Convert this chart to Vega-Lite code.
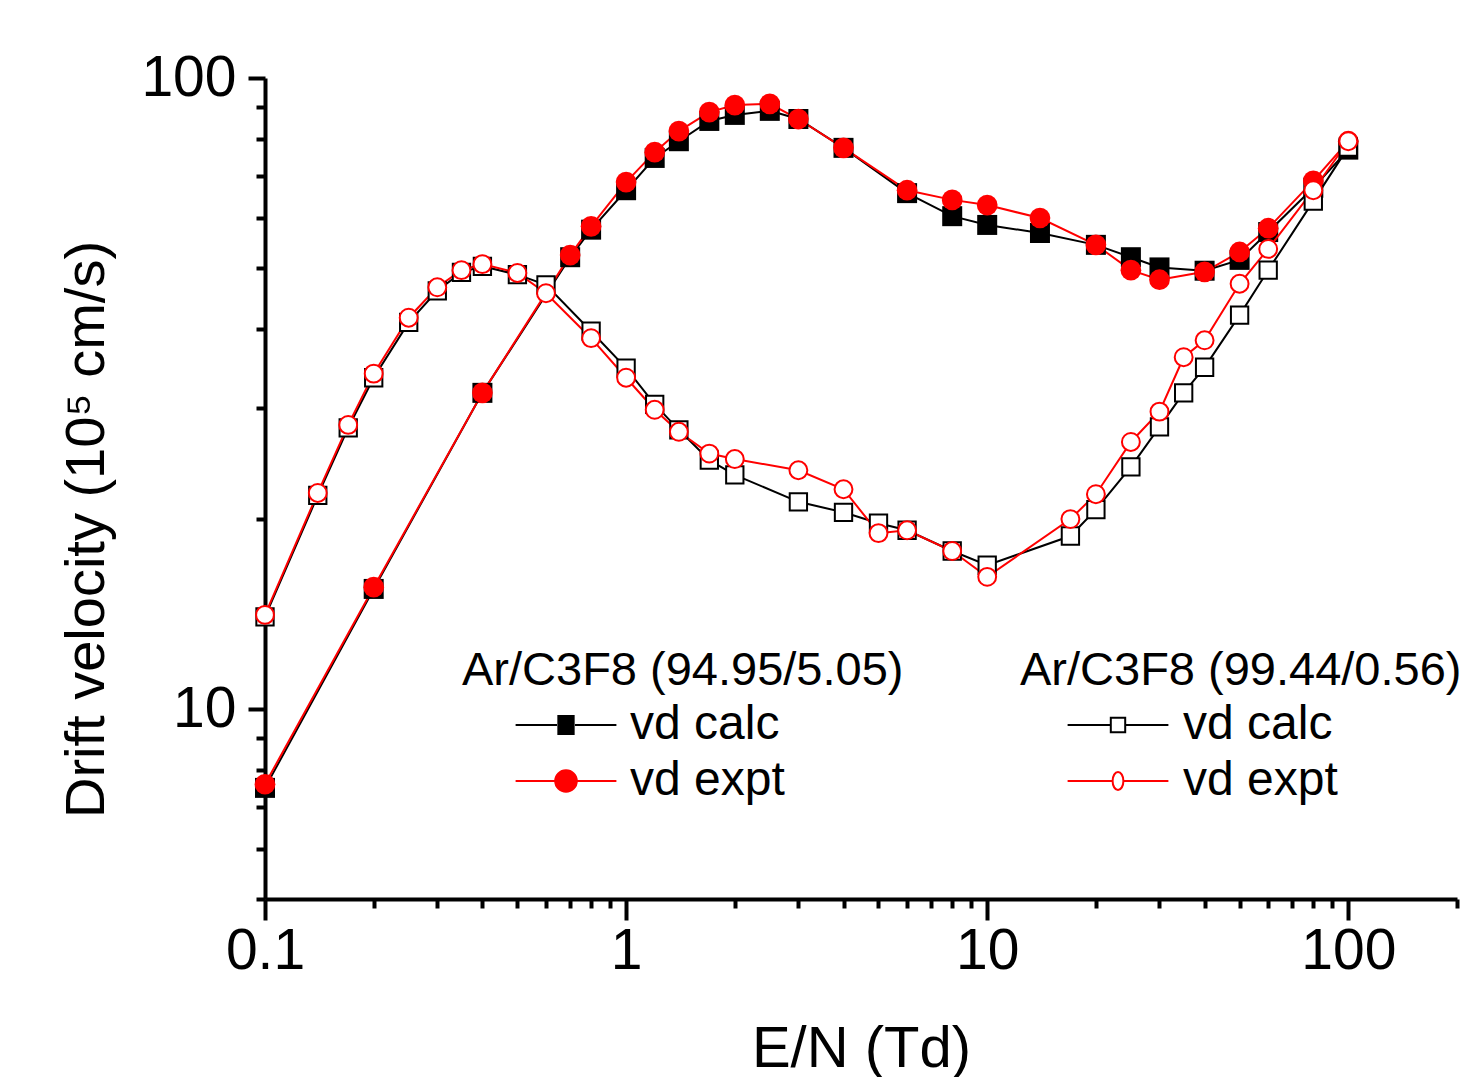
{
  "$schema": "https://vega.github.io/schema/vega-lite/v6.json",
  "autosize": {"type": "none"},
  "width": 1192,
  "height": 821,
  "padding": {"left": 265, "top": 78, "right": 8, "bottom": 178},
  "background": "white",
  "config": {
    "view": {"stroke": null},
    "font": "Liberation Sans",
    "axis": {
      "domainColor": "black", "domainWidth": 4, "tickColor": "black", "tickWidth": 4,
      "labelFont": "Liberation Sans", "labelFontSize": 57, "labelColor": "black",
      "labelOverlap": false, "labelFlush": false, "labelBound": false, "grid": false,
      "titleFont": "Liberation Sans", "titleFontWeight": "normal", "titleColor": "black"
    },
    "legend": {
      "titleFont": "Liberation Sans", "titleFontSize": 47, "titleFontWeight": "normal", "titleColor": "black",
      "titleLimit": 0, "labelLimit": 0, "labelFont": "Liberation Sans", "labelFontSize": 48, "labelColor": "black",
      "padding": 0, "symbolSize": 324, "symbolStrokeWidth": 2, "rowPadding": 8, "titlePadding": 6
    }
  },
  "datasets": {
    "mixA": [
      {"series": "vd calc", "x": 0.1, "y": 7.5}, {"series": "vd calc", "x": 0.2, "y": 15.5}, {"series": "vd calc", "x": 0.4, "y": 31.7},
      {"series": "vd calc", "x": 0.7, "y": 52.0}, {"series": "vd calc", "x": 0.8, "y": 57.5}, {"series": "vd calc", "x": 1.0, "y": 66.4},
      {"series": "vd calc", "x": 1.2, "y": 74.7}, {"series": "vd calc", "x": 1.4, "y": 79.4}, {"series": "vd calc", "x": 1.7, "y": 85.5},
      {"series": "vd calc", "x": 2.0, "y": 87.4}, {"series": "vd calc", "x": 2.5, "y": 88.7}, {"series": "vd calc", "x": 3.0, "y": 86.1},
      {"series": "vd calc", "x": 4.0, "y": 77.5}, {"series": "vd calc", "x": 6.0, "y": 65.7}, {"series": "vd calc", "x": 8.0, "y": 60.4},
      {"series": "vd calc", "x": 10, "y": 58.5}, {"series": "vd calc", "x": 14, "y": 56.8}, {"series": "vd calc", "x": 20, "y": 54.4},
      {"series": "vd calc", "x": 25, "y": 52.0}, {"series": "vd calc", "x": 30, "y": 50.1}, {"series": "vd calc", "x": 40, "y": 49.5},
      {"series": "vd calc", "x": 50, "y": 51.5}, {"series": "vd calc", "x": 60, "y": 57.0}, {"series": "vd calc", "x": 80, "y": 67.0},
      {"series": "vd calc", "x": 100, "y": 77.0},
      {"series": "vd expt", "x": 0.1, "y": 7.6}, {"series": "vd expt", "x": 0.2, "y": 15.6}, {"series": "vd expt", "x": 0.4, "y": 31.7},
      {"series": "vd expt", "x": 0.7, "y": 52.4}, {"series": "vd expt", "x": 0.8, "y": 58.2}, {"series": "vd expt", "x": 1.0, "y": 68.4},
      {"series": "vd expt", "x": 1.2, "y": 76.3}, {"series": "vd expt", "x": 1.4, "y": 82.4}, {"series": "vd expt", "x": 1.7, "y": 88.3},
      {"series": "vd expt", "x": 2.0, "y": 90.6}, {"series": "vd expt", "x": 2.5, "y": 91.0}, {"series": "vd expt", "x": 3.0, "y": 86.1},
      {"series": "vd expt", "x": 4.0, "y": 77.5}, {"series": "vd expt", "x": 6.0, "y": 66.4}, {"series": "vd expt", "x": 8.0, "y": 64.1},
      {"series": "vd expt", "x": 10, "y": 62.9}, {"series": "vd expt", "x": 14, "y": 60.0}, {"series": "vd expt", "x": 20, "y": 54.4},
      {"series": "vd expt", "x": 25, "y": 49.6}, {"series": "vd expt", "x": 30, "y": 47.9}, {"series": "vd expt", "x": 40, "y": 49.3},
      {"series": "vd expt", "x": 50, "y": 53.0}, {"series": "vd expt", "x": 60, "y": 57.8}, {"series": "vd expt", "x": 80, "y": 68.7},
      {"series": "vd expt", "x": 100, "y": 79.4}
    ],
    "mixB": [
      {"series": "vd calc", "x": 0.1, "y": 14.0}, {"series": "vd calc", "x": 0.14, "y": 21.8}, {"series": "vd calc", "x": 0.17, "y": 27.9},
      {"series": "vd calc", "x": 0.2, "y": 33.5}, {"series": "vd calc", "x": 0.25, "y": 41.0}, {"series": "vd calc", "x": 0.3, "y": 46.0},
      {"series": "vd calc", "x": 0.35, "y": 49.2}, {"series": "vd calc", "x": 0.4, "y": 50.3}, {"series": "vd calc", "x": 0.5, "y": 48.8},
      {"series": "vd calc", "x": 0.6, "y": 47.0}, {"series": "vd calc", "x": 0.8, "y": 39.7}, {"series": "vd calc", "x": 1.0, "y": 34.7},
      {"series": "vd calc", "x": 1.2, "y": 30.4}, {"series": "vd calc", "x": 1.4, "y": 27.7}, {"series": "vd calc", "x": 1.7, "y": 24.8},
      {"series": "vd calc", "x": 2.0, "y": 23.5}, {"series": "vd calc", "x": 3.0, "y": 21.3}, {"series": "vd calc", "x": 4.0, "y": 20.5},
      {"series": "vd calc", "x": 5.0, "y": 19.7}, {"series": "vd calc", "x": 6.0, "y": 19.2}, {"series": "vd calc", "x": 8.0, "y": 17.8},
      {"series": "vd calc", "x": 10, "y": 16.9}, {"series": "vd calc", "x": 17, "y": 18.8}, {"series": "vd calc", "x": 20, "y": 20.7},
      {"series": "vd calc", "x": 25, "y": 24.2}, {"series": "vd calc", "x": 30, "y": 28.0}, {"series": "vd calc", "x": 35, "y": 31.7},
      {"series": "vd calc", "x": 40, "y": 34.8}, {"series": "vd calc", "x": 50, "y": 42.1}, {"series": "vd calc", "x": 60, "y": 49.6},
      {"series": "vd calc", "x": 80, "y": 63.8}, {"series": "vd calc", "x": 100, "y": 77.7},
      {"series": "vd expt", "x": 0.1, "y": 14.1}, {"series": "vd expt", "x": 0.14, "y": 22.0}, {"series": "vd expt", "x": 0.17, "y": 28.2},
      {"series": "vd expt", "x": 0.2, "y": 34.0}, {"series": "vd expt", "x": 0.25, "y": 41.7}, {"series": "vd expt", "x": 0.3, "y": 46.6},
      {"series": "vd expt", "x": 0.35, "y": 49.6}, {"series": "vd expt", "x": 0.4, "y": 50.7}, {"series": "vd expt", "x": 0.5, "y": 49.1},
      {"series": "vd expt", "x": 0.6, "y": 45.6}, {"series": "vd expt", "x": 0.8, "y": 38.7}, {"series": "vd expt", "x": 1.0, "y": 33.5},
      {"series": "vd expt", "x": 1.2, "y": 29.8}, {"series": "vd expt", "x": 1.4, "y": 27.5}, {"series": "vd expt", "x": 1.7, "y": 25.4},
      {"series": "vd expt", "x": 2.0, "y": 24.9}, {"series": "vd expt", "x": 3.0, "y": 23.9}, {"series": "vd expt", "x": 4.0, "y": 22.3},
      {"series": "vd expt", "x": 5.0, "y": 19.0}, {"series": "vd expt", "x": 6.0, "y": 19.2}, {"series": "vd expt", "x": 8.0, "y": 17.8},
      {"series": "vd expt", "x": 10, "y": 16.2}, {"series": "vd expt", "x": 17, "y": 20.0}, {"series": "vd expt", "x": 20, "y": 21.9},
      {"series": "vd expt", "x": 25, "y": 26.5}, {"series": "vd expt", "x": 30, "y": 29.6}, {"series": "vd expt", "x": 35, "y": 36.1},
      {"series": "vd expt", "x": 40, "y": 38.4}, {"series": "vd expt", "x": 50, "y": 47.2}, {"series": "vd expt", "x": 60, "y": 53.6},
      {"series": "vd expt", "x": 80, "y": 66.4}, {"series": "vd expt", "x": 100, "y": 79.4}
    ]
  },
  "encoding": {
    "x": {
      "field": "x", "type": "quantitative",
      "scale": {"type": "log", "domain": [0.1, 200], "nice": false},
      "axis": {
        "title": "E/N (Td)", "titleFontSize": 58, "titleBaseline": "alphabetic", "titleY": 167,
        "values": [0.1,0.2,0.3,0.4,0.5,0.6,0.7,0.8,0.9,1,2,3,4,5,6,7,8,9,10,20,30,40,50,60,70,80,90,100,200],
        "labelExpr": "datum.value===0.1?'0.1':datum.value===1?'1':datum.value===10?'10':datum.value===100?'100':''",
        "tickSize": {"condition": {"test": "datum.value===0.1||datum.value===1||datum.value===10||datum.value===100", "value": 21}, "value": 9},
        "labelPadding": 3
      }
    },
    "y": {
      "field": "y", "type": "quantitative",
      "scale": {"type": "log", "domain": [5, 100], "nice": false},
      "axis": {
        "title": "Drift velocity (10⁵ cm/s)", "titleFontSize": 56, "titleBaseline": "alphabetic",
        "titleX": -162, "titleY": 451, "titleAngle": -90,
        "values": [5,6,7,8,9,10,20,30,40,50,60,70,80,90,100],
        "labelExpr": "datum.value===10?'10':datum.value===100?'100':''",
        "tickSize": {"condition": {"test": "datum.value===10||datum.value===100", "value": 17}, "value": 9},
        "labelPadding": 12
      }
    }
  },
  "layer": [
    {
      "data": {"name": "mixA"},
      "encoding": {
        "color": {
          "field": "series", "type": "nominal",
          "scale": {"domain": ["vd calc", "vd expt"], "range": ["#000000", "#ff0000"]},
          "legend": {
            "title": "Ar/C3F8 (94.95/5.05)", "orient": "none", "legendX": 197, "legendY": 570,
            "symbolOffset": 80, "labelOffset": 40,
            "encode": {"symbols": {"update": {
              "shape": {"signal": "datum.value === 'vd calc' ? 'M-5.6,0H-1M1,0H5.6M-0.85,-1H0.85V1H-0.85Z' : 'M-5.6,0H-1.2M1.2,0H5.6M1.2,0A1.2,1.2 0 1,1 -1.2,0A1.2,1.2 0 1,1 1.2,0Z'"},
              "stroke": {"signal": "datum.value === 'vd calc' ? '#000000' : '#ff0000'"},
              "strokeWidth": {"value": 2}
            }}}
          }
        }
      },
      "layer": [
        {"mark": {"type": "line", "strokeWidth": 2}},
        {
          "transform": [{"filter": "datum.series === 'vd calc'"}],
          "mark": {"type": "point", "shape": "square", "filled": true, "size": 400, "opacity": 1}
        },
        {
          "transform": [{"filter": "datum.series === 'vd expt'"}],
          "mark": {"type": "point", "shape": "circle", "filled": true, "size": 430, "opacity": 1}
        }
      ]
    },
    {
      "data": {"name": "mixB"},
      "encoding": {
        "color": {
          "field": "series", "type": "nominal",
          "scale": {"domain": ["vd calc", "vd expt"], "range": ["#000000", "#ff0000"]},
          "legend": {
            "title": "Ar/C3F8 (99.44/0.56)", "orient": "none", "legendX": 755, "legendY": 570,
            "symbolOffset": 74, "labelOffset": 41,
            "encode": {"symbols": {"update": {
              "shape": {"signal": "datum.value === 'vd calc' ? 'M-5.6,0H-0.8M0.8,0H5.6M-0.8,-0.8H0.8V0.8H-0.8Z' : 'M-5.6,0H-0.6M0.6,0H5.6M0.6,0A0.6,1 0 1,1 -0.6,0A0.6,1 0 1,1 0.6,0Z'"},
              "stroke": {"signal": "datum.value === 'vd calc' ? '#000000' : '#ff0000'"},
              "strokeWidth": {"value": 2}
            }}}
          }
        }
      },
      "layer": [
        {"mark": {"type": "line", "strokeWidth": 2}},
        {
          "transform": [{"filter": "datum.series === 'vd calc'"}],
          "mark": {"type": "point", "shape": "square", "filled": false, "fill": "white", "size": 300, "strokeWidth": 2, "opacity": 1}
        },
        {
          "transform": [{"filter": "datum.series === 'vd expt'"}],
          "mark": {"type": "point", "shape": "circle", "filled": false, "fill": "white", "size": 320, "strokeWidth": 2, "opacity": 1}
        }
      ]
    }
  ],
  "resolve": {
    "scale": {"color": "independent"},
    "legend": {"color": "independent"}
  }
}
